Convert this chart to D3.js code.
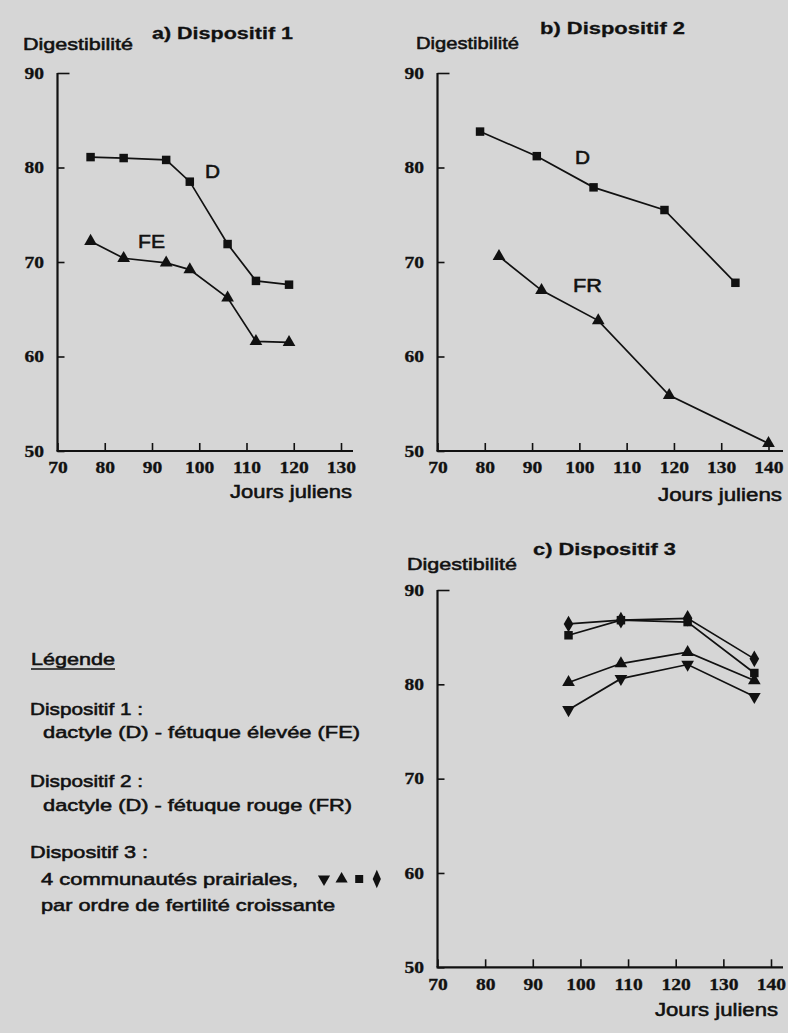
<!DOCTYPE html>
<html><head><meta charset="utf-8">
<script src="https://cdn.jsdelivr.net/npm/d3@7"></script>
<style>body{margin:0;background:#d6d6d6}</style>
</head><body><svg id="c" width="788" height="1033"></svg>
<script>
// ---- data ----
const xTicksA = [70, 80, 90, 100, 110, 120, 130];
const xTicksBC = [70, 80, 90, 100, 110, 120, 130, 140];
const yTicks = [50, 60, 70, 80, 90];

const daysA = [77, 84, 93, 98, 106, 112, 119];
const digA_D = [81.1, 81.0, 80.8, 78.5, 71.9, 68.0, 67.6];
const digA_FE = [72.2, 70.4, 69.9, 69.2, 66.2, 61.6, 61.5];

const daysB_D = [79, 91, 103, 118, 133];
const digB_D = [83.8, 81.2, 77.9, 75.5, 67.8];
const daysB_FR = [83, 92, 104, 119, 140];
const digB_FR = [70.6, 67.0, 63.8, 55.9, 50.8];

const daysC = [97.5, 108.5, 122.5, 136.5];
const digC_down = [77.3, 80.6, 82.1, 78.7];
const digC_up = [80.2, 82.2, 83.4, 80.4];
const digC_square = [85.2, 86.8, 86.6, 81.2];
const digC_diamond = [86.4, 86.8, 87.0, 82.7];

const legendSymbols = ["down", "up", "square", "diamond"];

// ---- drawing ----
const svg = d3.select("#c");
svg.append("rect").attr("width", 788).attr("height", 1033).attr("fill", "#d6d6d6");
const INK = "#111";
const SANS = "'Liberation Sans', Arial, sans-serif";
const SERIF = "'Liberation Serif', 'Times New Roman', serif";

function symPath(kind, size) {
  const map = {square: d3.symbolSquare, up: d3.symbolTriangle, down: d3.symbolTriangle, diamond: d3.symbolDiamond};
  return d3.symbol().type(map[kind]).size(size)();
}
const symSize = {square: 72, up: 70, down: 70, diamond: 80};

function txt(x, y, s, size, weight, len, anchor) {
  const t = svg.append("text").attr("x", x).attr("y", y)
    .attr("font-family", SANS).attr("font-size", size).attr("font-weight", weight)
    .attr("fill", INK).attr("text-anchor", anchor || "start").text(s);
  if (len) t.attr("textLength", len).attr("lengthAdjust", "spacingAndGlyphs");
  t.attr("stroke", INK).attr("stroke-width", weight === "bold" ? 0.3 : 0.55);
  return t;
}

function styleTickText(sel) {
  sel.attr("font-family", SERIF).attr("font-weight", "bold").attr("font-size", 16)
    .attr("fill", INK).attr("stroke", INK).attr("stroke-width", 0.3).attr("transform", "scale(1.22,1)");
}

function panel(cfg) {
  const x = d3.scaleLinear().domain(cfg.xd).range(cfg.xr);
  const y = d3.scaleLinear().domain([50, 90]).range(cfg.yr);
  const g = svg.append("g");

  const xa = g.append("g").attr("transform", `translate(0,${cfg.yr[0]})`)
    .call(d3.axisBottom(x).tickValues(cfg.xt).tickSizeInner(-8).tickSizeOuter(0).tickPadding(11).tickFormat(d3.format("d")));
  xa.select(".domain").remove();
  xa.selectAll("line").attr("stroke", INK).attr("stroke-width", 1.6);
  styleTickText(xa.selectAll("text"));

  const ya = g.append("g").attr("transform", `translate(${cfg.xr[0]},0)`)
    .call(d3.axisLeft(y).tickValues(yTicks).tickSizeInner(-7).tickSizeOuter(0).tickPadding(11).tickFormat(d3.format("d")));
  ya.select(".domain").remove();
  ya.selectAll("line").attr("stroke", INK).attr("stroke-width", 1.6);
  ya.selectAll(".tick").filter(d => d === 90).select("line").attr("x2", 12);
  styleTickText(ya.selectAll("text"));

  g.append("line").attr("x1", cfg.xr[0] - 1).attr("x2", cfg.axisEnd)
    .attr("y1", cfg.yr[0]).attr("y2", cfg.yr[0]).attr("stroke", INK).attr("stroke-width", 2.2);
  g.append("line").attr("x1", cfg.xr[0]).attr("x2", cfg.xr[0])
    .attr("y1", y(50)).attr("y2", y(90)).attr("stroke", INK).attr("stroke-width", 2.2);

  const line = d3.line().x(d => x(d[0])).y(d => y(d[1]));
  cfg.series.forEach(s => {
    const pts = s.days.map((d, i) => [d, s.vals[i]]);
    g.append("path").attr("d", line(pts)).attr("fill", "none").attr("stroke", INK).attr("stroke-width", 1.7);
    g.selectAll(null).data(pts).enter().append("path")
      .attr("d", symPath(s.kind, symSize[s.kind]))
      .attr("transform", d => `translate(${x(d[0])},${y(d[1])})` + (s.kind === "down" ? " rotate(180)" : ""))
      .attr("fill", INK);
  });
}

panel({xd: [70, 130], xr: [57.5, 341], yr: [451, 73], axisEnd: 353, xt: xTicksA,
  series: [{days: daysA, vals: digA_D, kind: "square"}, {days: daysA, vals: digA_FE, kind: "up"}]});
panel({xd: [70, 140], xr: [437.5, 768.5], yr: [451, 73], axisEnd: 783, xt: xTicksBC,
  series: [{days: daysB_D, vals: digB_D, kind: "square"}, {days: daysB_FR, vals: digB_FR, kind: "up"}]});
panel({xd: [70, 140], xr: [437.5, 771], yr: [967.3, 590], axisEnd: 783, xt: xTicksBC,
  series: [{days: daysC, vals: digC_down, kind: "down"}, {days: daysC, vals: digC_up, kind: "up"},
           {days: daysC, vals: digC_square, kind: "square"}, {days: daysC, vals: digC_diamond, kind: "diamond"}]});

// titles & axis labels
txt(23, 50, "Digestibilité", 17, "normal", 110);
txt(152, 39, "a) Dispositif 1", 17, "bold", 141);
txt(416, 49, "Digestibilité", 17, "normal", 103);
txt(540, 34, "b) Dispositif 2", 17, "bold", 145);
txt(407, 570, "Digestibilité", 17, "normal", 110);
txt(533, 555, "c) Dispositif 3", 17, "bold", 143);
txt(230, 498, "Jours juliens", 18, "normal", 122);
txt(658, 501, "Jours juliens", 18, "normal", 124);
txt(655, 1016, "Jours juliens", 18, "normal", 123);

// curve labels
txt(205, 178, "D", 18, "normal", 15);
txt(138, 248, "FE", 18, "normal", 27);
txt(575, 164, "D", 18, "normal", 15);
txt(573, 292, "FR", 18, "normal", 29);

// legend
txt(31, 665, "Légende", 17, "normal", 84);
svg.append("line").attr("x1", 31).attr("x2", 115).attr("y1", 669).attr("y2", 669).attr("stroke", INK).attr("stroke-width", 1.5);
txt(30, 715, "Dispositif 1 :", 17, "normal", 113);
txt(43, 738, "dactyle (D) - fétuque élevée (FE)", 17, "normal", 317);
txt(30, 787, "Dispositif 2 :", 17, "normal", 113);
txt(43, 811, "dactyle (D) - fétuque rouge (FR)", 17, "normal", 309);
txt(30, 858, "Dispositif 3 :", 17, "normal", 118);
txt(41, 885, "4 communautés prairiales,", 17, "normal", 257);
txt(41, 911, "par ordre de fertilité croissante", 17, "normal", 294);
legendSymbols.forEach((k, i) => {
  svg.append("path").attr("d", symPath(k, k === "diamond" ? 80 : 64))
    .attr("transform", `translate(${324 + i * 17.6},879)` + (k === "down" ? " rotate(180)" : "") + (k === "diamond" ? " scale(0.85,1.1)" : ""))
    .attr("fill", INK);
});
</script></body></html>
